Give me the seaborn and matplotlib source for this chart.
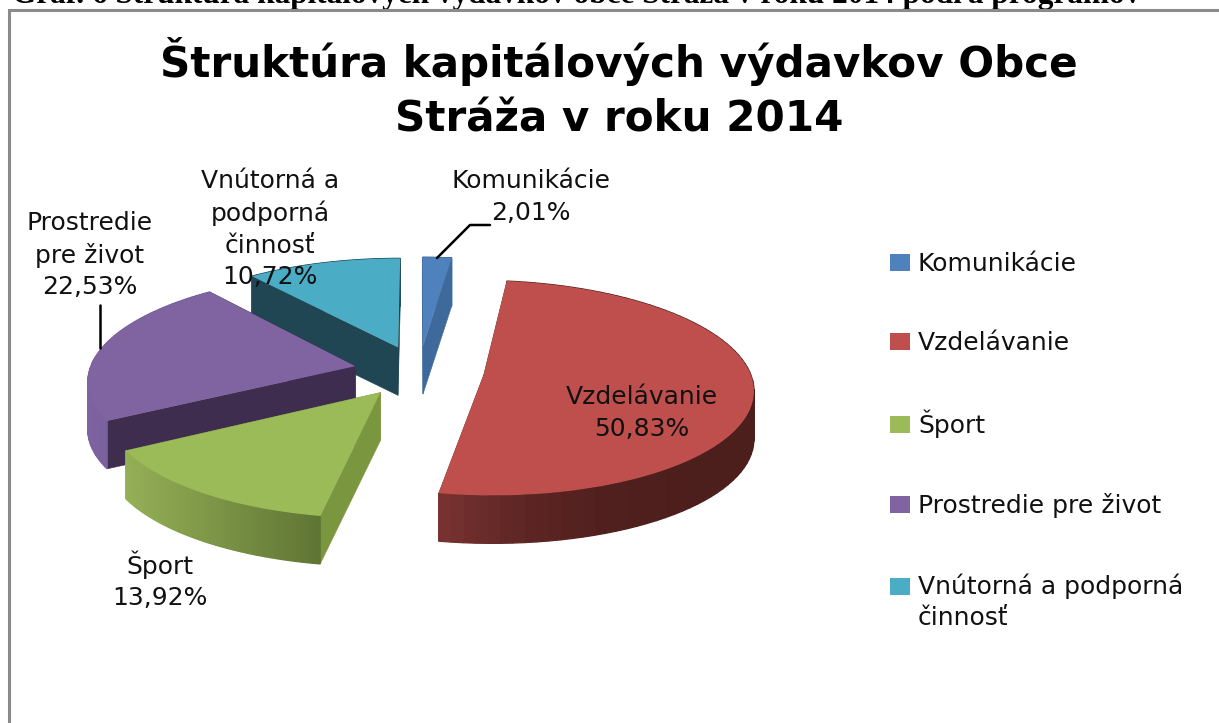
import numpy as np
import matplotlib
matplotlib.use("Agg")
import matplotlib.pyplot as plt
from matplotlib.colors import to_rgb
from matplotlib.lines import Line2D
from matplotlib.patches import Patch
from matplotlib.transforms import Transform
import seaborn as sns

# ---- data ----
categories = ["Komunikácie", "Vzdelávanie", "Šport", "Prostredie pre život", "Vnútorná a podporná činnosť"]
values = [2.01, 50.83, 13.92, 22.53, 10.72]
legend_labels = ["Komunikácie", "Vzdelávanie", "Šport", "Prostredie pre život", "Vnútorná a podporná\nčinnosť"]
value_labels = ["2,01%", "50,83%", "13,92%", "22,53%", "10,72%"]
title = "Štruktúra kapitálových výdavkov Obce\nStráža v roku 2014"
header = "Graf. 6 Štruktúra kapitálových výdavkov obce Stráža v roku 2014 podľa programov"

# ---- style ----
top_colors = ["#4f81bd", "#be4f4c", "#9bbb59", "#8064a2", "#4bacc6"]
cut_colors = ["#3d6a9b", "#7a3331", "#7a963f", "#3f2d4f", "#1f4652"]
rim_right = ["#3d6a9b", "#4c1e1c", "#5f7434", "#6a5390", "#1f4652"]
rim_left = ["#3d6a9b", "#7a3331", "#94b056", "#7d64a0", "#1f4652"]
rim_power = [1, 3, 1, 1, 1]
EXPLODE = 0.245
CX, CY, A, B, K, DEPTH = 419, 371, 266, 105, 0.12, 48

sns.set_theme(style="white")
plt.rcParams["font.family"] = ["DejaVu Sans"]
palette = sns.color_palette(top_colors)


def project(xy):
    xy = np.atleast_2d(xy)
    d = 1 + K * xy[:, 1]
    return np.column_stack((CX + A * xy[:, 0] / d, CY - B * xy[:, 1] / d))


class Perspective(Transform):
    input_dims = output_dims = 2
    is_affine = False

    def transform_non_affine(self, values):
        return project(np.asarray(values))


fig = plt.figure(figsize=(12.19, 7.23), dpi=100, facecolor="white")
ax = fig.add_axes([0, 0, 1, 1])

wedges, _ = ax.pie(values, colors=palette, startangle=90, counterclock=False,
                   explode=[EXPLODE] * len(values), radius=1,
                   wedgeprops=dict(linewidth=0))
ax.set_aspect("auto")
ax.set_xlim(0, 1219)
ax.set_ylim(723, 0)
ax.axis("off")

persp = Perspective()
for w in wedges:
    w.set_transform(persp + ax.transData)
    w.set_clip_on(False)

# extruded walls
bounds = np.concatenate(([0], np.cumsum(values))) / np.sum(values) * 2 * np.pi
draw_order = [4, 0, 3, 2, 1]
for rank, i in enumerate(draw_order):
    a0, a1 = bounds[i], bounds[i + 1]
    mid = (a0 + a1) / 2
    apex = EXPLODE * np.array([np.sin(mid), np.cos(mid)])
    z = 10 + rank * 5
    wedges[i].set_zorder(z + 3)
    angs = np.linspace(a0, a1, 80)
    rim = project(apex + np.column_stack((np.sin(angs), np.cos(angs))))
    pa = project(apex)[0]
    for edge in (rim[0], rim[-1]):
        ax.fill([pa[0], edge[0], edge[0], pa[0]],
                [pa[1], edge[1], edge[1] + DEPTH, pa[1] + DEPTH],
                color=cut_colors[i], lw=0.4, zorder=z)
    cr, cl = np.array(to_rgb(rim_right[i])), np.array(to_rgb(rim_left[i]))
    xmin, xmax = rim[:, 0].min(), rim[:, 0].max()
    for k in range(len(angs) - 1):
        p, q = rim[k], rim[k + 1]
        t = ((xmax - (p[0] + q[0]) / 2) / max(xmax - xmin, 1)) ** rim_power[i]
        col = cr + (cl - cr) * t
        ax.fill([p[0], q[0], q[0], p[0]], [p[1], q[1], q[1] + DEPTH, p[1] + DEPTH],
                facecolor=col, edgecolor=col, lw=0.9, zorder=z + 1)

# frame and clipped caption
ax.plot([8.5, 8.5, 1219], [723, 10, 10], color="#8a8a8a", lw=2.2, zorder=50, solid_joinstyle="miter")
ax.text(12, 3, header, family="Liberation Serif", weight="bold", fontsize=22.5, va="baseline", ha="left", color="black", zorder=40)

# title
title_lines = title.split("\n")
ax.text(619, 62, title_lines[0], fontsize=30.3, weight="bold", ha="center", va="center", color="black", zorder=60)
ax.text(619, 120, title_lines[1], fontsize=30.3, weight="bold", ha="center", va="center", color="black", zorder=60)

# data labels
LS = 18
lab = dict(fontsize=LS, ha="center", va="center", color="#111111", zorder=60, linespacing=1.38)
ax.text(531, 197, categories[0] + "\n" + value_labels[0], **lab)
ax.text(642, 413, categories[1] + "\n" + value_labels[1], **lab)
ax.text(160, 580, categories[2] + "\n" + value_labels[2], **lab)
ax.text(90, 255, "Prostredie\npre život\n" + value_labels[3], **lab)
ax.text(270, 229, "Vnútorná a\npodporná\nčinnosť\n" + value_labels[4], **lab)

# leader lines
ax.add_line(Line2D([437, 470, 490], [258, 225, 225], color="black", lw=1.8, zorder=60))
ax.add_line(Line2D([100, 100], [305, 348], color="black", lw=1.8, zorder=60))

# legend
handles = [Patch(facecolor=c, edgecolor="none") for c in top_colors]
leg = ax.legend(handles, legend_labels, loc="upper left", bbox_to_anchor=(890 / 1219, 1 - 252 / 723),
                bbox_transform=fig.transFigure, frameon=False, fontsize=LS, handlelength=0.8, handleheight=0.68,
                handletextpad=0.32, labelspacing=2.2, borderpad=0, borderaxespad=0, labelcolor="#111111")
leg.get_texts()[-1].set_linespacing(1.38)
last = leg.legend_handles[-1]
last.set_y(last.get_y() + 11.5)

fig.savefig("out.png", dpi=100, facecolor="white")
